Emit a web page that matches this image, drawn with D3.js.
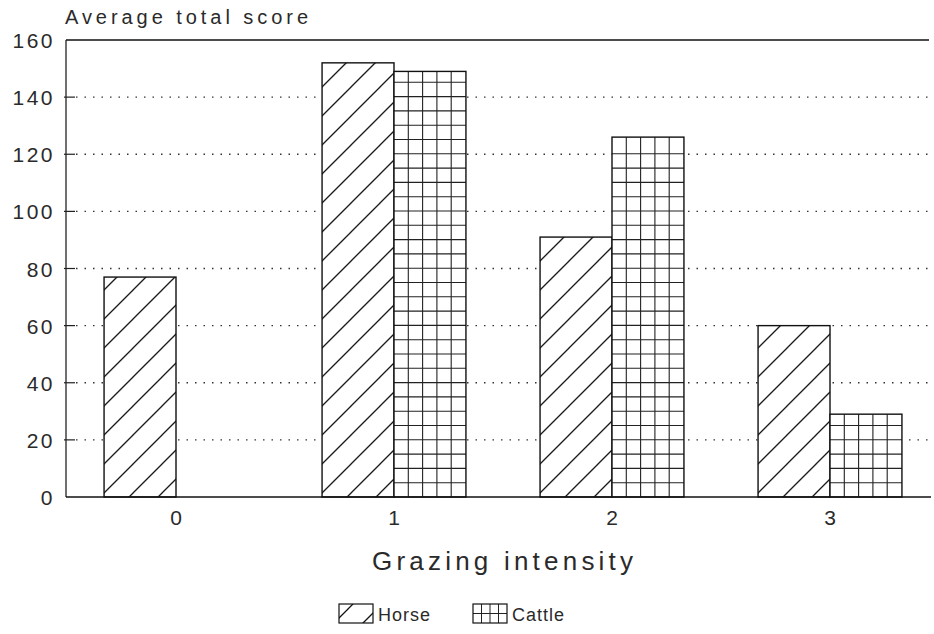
<!DOCTYPE html>
<html>
<head>
<meta charset="utf-8">
<script src="https://cdn.jsdelivr.net/npm/d3@7"></script>
<style>
  html, body { margin: 0; padding: 0; background: #fff; }
  svg { display: block; }
  text { font-family: "Liberation Sans", "DejaVu Sans", sans-serif; fill: #2a2a2a; }
</style>
</head>
<body>
<svg id="chart" width="934" height="634"></svg>
<script>
// ---- data ----
const categories = ["0", "1", "2", "3"];
const seriesNames = ["Horse", "Cattle"];
const horseValues = [77, 152, 91, 60];
const cattleValues = [0, 149, 126, 29];
const yTicks = [0, 20, 40, 60, 80, 100, 120, 140, 160];
const yTitle = "Average total score";
const xTitle = "Grazing intensity";

(function () {
// ---- layout ----
const svg = d3.select("#chart");
const pLeft = 66, pRight = 929, pTop = 40, pBottom = 497;

const x0 = d3.scaleBand().domain(categories).range([67, 939])
  .paddingInner(0.34).paddingOuter(0.17);
const x1 = d3.scaleBand().domain(seriesNames).range([0, x0.bandwidth()]);
const y = d3.scaleLinear().domain([0, 160]).range([pBottom, pTop]);

const defs = svg.append("defs");

// hatch pattern for Horse
const hatch = defs.append("pattern")
  .attr("id", "hatch")
  .attr("patternUnits", "userSpaceOnUse")
  .attr("width", 29).attr("height", 29);
hatch.append("rect").attr("width", 29).attr("height", 29).attr("fill", "#fff");
hatch.append("path")
  .attr("d", "M-2,31 L31,-2 M-16,16 L16,-16 M13,45 L45,13")
  .attr("stroke", "#111").attr("stroke-width", 1.3).attr("fill", "none");

// dotted gridlines
svg.append("g").selectAll("line")
  .data(yTicks.filter(t => t > 0 && t < 160))
  .join("line")
  .attr("x1", pLeft + 10).attr("x2", pRight)
  .attr("y1", d => y(d)).attr("y2", d => y(d))
  .attr("stroke", "#333").attr("stroke-width", 1.3)
  .attr("stroke-dasharray", "1.5,7");

// y axis
const yAxis = d3.axisLeft(y).tickValues(yTicks).tickSize(0).tickPadding(11)
  .tickFormat(d3.format("d"));
const gy = svg.append("g").attr("transform", `translate(${pLeft},0)`).call(yAxis);
gy.select(".domain").remove();
gy.selectAll("text")
  .attr("font-size", 21).attr("letter-spacing", "2.5px")
  .attr("dy", "0.36em").style("font-weight", 300);
// inward tick marks
svg.append("g").selectAll("line")
  .data(yTicks.filter(t => t > 0 && t < 160))
  .join("line")
  .attr("x1", pLeft - 2).attr("x2", pLeft + 9)
  .attr("y1", d => y(d)).attr("y2", d => y(d))
  .attr("stroke", "#222").attr("stroke-width", 1.2);

// frame lines
svg.append("line").attr("x1", pLeft).attr("x2", pLeft).attr("y1", pTop).attr("y2", pBottom)
  .attr("stroke", "#222").attr("stroke-width", 1.3);
svg.append("line").attr("x1", pLeft).attr("x2", pRight).attr("y1", pTop).attr("y2", pTop)
  .attr("stroke", "#111").attr("stroke-width", 1.5);

// bars
const cell = 14.3;
const rows = categories.map((c, i) => ({ cat: c, i, Horse: horseValues[i], Cattle: cattleValues[i] }));
const groups = svg.append("g").selectAll("g").data(rows).join("g")
  .attr("transform", d => `translate(${x0(d.cat)},0)`);
const bars = groups.selectAll("g.bar")
  .data(d => seriesNames.map(s => ({ s, v: d[s], i: d.i })).filter(e => e.v > 0))
  .join("g").attr("class", "bar");
bars.append("rect")
  .attr("x", e => x1(e.s))
  .attr("y", e => y(e.v))
  .attr("width", x1.bandwidth())
  .attr("height", e => y(0) - y(e.v))
  .attr("fill", e => e.s === "Horse" ? "url(#hatch)" : "#fff");
// grid lines inside cattle bars
bars.filter(e => e.s === "Cattle").each(function (e) {
  const g = d3.select(this);
  const bx = x1(e.s), bw = x1.bandwidth(), ty = y(e.v);
  const vx = d3.range(bx + cell, bx + bw - 3, cell);
  const hy = d3.range(pBottom - cell, ty + 3, -cell);
  g.selectAll("line.v").data(vx).join("line").attr("class", "v")
    .attr("x1", d => d).attr("x2", d => d).attr("y1", ty).attr("y2", pBottom)
    .attr("stroke", "#222").attr("stroke-width", 1.1);
  g.selectAll("line.h").data(hy).join("line").attr("class", "h")
    .attr("x1", bx).attr("x2", bx + bw).attr("y1", d => d).attr("y2", d => d)
    .attr("stroke", "#222").attr("stroke-width", 1.1);
});
bars.append("rect")
  .attr("x", e => x1(e.s))
  .attr("y", e => y(e.v))
  .attr("width", x1.bandwidth())
  .attr("height", e => y(0) - y(e.v))
  .attr("fill", "none")
  .attr("stroke", "#111").attr("stroke-width", 1.4);

// x axis baseline
svg.append("line").attr("x1", pLeft).attr("x2", pRight + 2).attr("y1", pBottom).attr("y2", pBottom)
  .attr("stroke", "#111").attr("stroke-width", 1.5);

// x tick labels
const xAxis = d3.axisBottom(x0).tickSize(0).tickPadding(13);
const gx = svg.append("g").attr("transform", `translate(0,${pBottom})`).call(xAxis);
gx.select(".domain").remove();
gx.selectAll("text").attr("font-size", 21).style("font-weight", 300);

// titles
svg.append("text").attr("x", 65).attr("y", 24).attr("font-size", 20)
  .attr("textLength", 243).attr("lengthAdjust", "spacing")
  .style("font-weight", 300).text(yTitle);
svg.append("text").attr("x", 372).attr("y", 570).attr("font-size", 26)
  .attr("textLength", 261).attr("lengthAdjust", "spacing")
  .style("font-weight", 300).text(xTitle);

// legend
const legendItems = [
  { name: seriesNames[0], x: 339 },
  { name: seriesNames[1], x: 473 }
];
const leg = svg.append("g").selectAll("g").data(legendItems).join("g");
leg.append("rect")
  .attr("x", d => d.x).attr("y", 604).attr("width", 34).attr("height", 19)
  .attr("fill", (d, i) => i === 0 ? "url(#hatch)" : "#fff");
// legend grid for cattle
const lc = legendItems[1];
leg.filter((d, i) => i === 1).each(function () {
  const g = d3.select(this);
  g.selectAll("line.v").data(d3.range(lc.x + 8.5, lc.x + 33, 8.5)).join("line")
    .attr("x1", d => d).attr("x2", d => d).attr("y1", 604).attr("y2", 623)
    .attr("stroke", "#222").attr("stroke-width", 1);
  g.append("line").attr("x1", lc.x).attr("x2", lc.x + 34).attr("y1", 613.5).attr("y2", 613.5)
    .attr("stroke", "#222").attr("stroke-width", 1);
});
leg.append("rect")
  .attr("x", d => d.x).attr("y", 604).attr("width", 34).attr("height", 19)
  .attr("fill", "none").attr("stroke", "#111").attr("stroke-width", 1.2);
leg.append("text")
  .attr("x", d => d.x + 39).attr("y", 621).attr("font-size", 18)
  .attr("letter-spacing", "1px").style("font-weight", 300)
  .text(d => d.name);
})();
</script>
</body>
</html>
